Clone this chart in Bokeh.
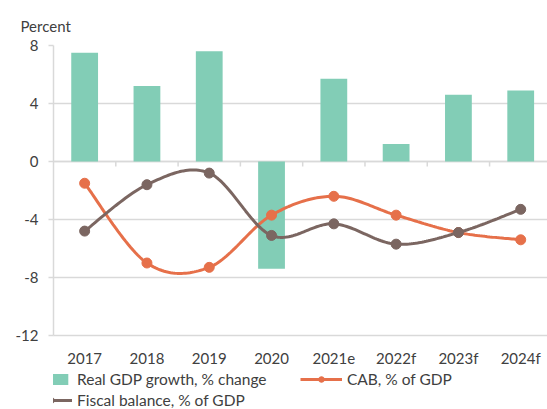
import numpy as np
from bokeh.plotting import figure
from bokeh.layouts import column
from bokeh.models import Range1d, FixedTicker, Legend, LegendItem, Span
from bokeh.embed import file_html
from bokeh.resources import INLINE

categories = ["2017", "2018", "2019", "2020", "2021e", "2022f", "2023f", "2024f"]
gdp = [7.5, 5.2, 7.6, -7.4, 5.7, 1.2, 4.6, 4.9]
cab = [-1.5, -7.0, -7.3, -3.7, -2.4, -3.7, -4.9, -5.4]
fiscal = [-4.8, -1.6, -0.8, -5.1, -4.3, -5.7, -4.9, -3.3]
y_ticks = [-12, -8, -4, 0, 4, 8]
y_tick_labels = ["-12", "-8", "-4", "0", "4", "8"]

FONT = "Lato"
TXT = "#404040"
GRID = "#d9d9d9"
C_BAR = "#82cdb6"
C_CAB = "#e6704a"
C_FIS = "#7b6661"

xs = np.arange(len(categories)) + 0.5


def smooth(x, y, n=30):
    x = np.asarray(x, float)
    y = np.asarray(y, float)
    P = np.column_stack([x, y])
    Pe = np.vstack([P[0], P, P[-1]])
    out = []
    for i in range(len(P) - 1):
        p0, p1, p2, p3 = Pe[i], Pe[i + 1], Pe[i + 2], Pe[i + 3]
        c1 = p1 + (p2 - p0) / 6.0
        c2 = p2 - (p3 - p1) / 6.0
        t = np.linspace(0, 1, n)[:, None]
        seg = ((1 - t) ** 3) * p1 + 3 * ((1 - t) ** 2) * t * c1 + 3 * (1 - t) * t ** 2 * c2 + t ** 3 * p2
        out.append(seg if i == 0 else seg[1:])
    s = np.vstack(out)
    return s[:, 0], s[:, 1]


p = figure(width=547, height=370, output_backend="svg", toolbar_location=None,
           x_range=Range1d(0, 7.93), y_range=Range1d(y_ticks[0], y_ticks[-1]),
           min_border_left=53, min_border_right=0, min_border_top=45, min_border_bottom=35,
           title="Percent")
p.outline_line_color = None
p.background_fill_color = "white"
p.border_fill_color = "white"

p.title.text_font = FONT
p.title.text_font_size = "15px"
p.title.text_font_style = "normal"
p.title.text_color = TXT
p.title.align = "left"
p.title.offset = -33
p.title.standoff = 22

p.xgrid.grid_line_color = None
p.ygrid.grid_line_color = GRID
p.ygrid.grid_line_width = 1.5

p.yaxis.ticker = FixedTicker(ticks=y_ticks)
p.yaxis.major_label_overrides = {t: s for t, s in zip(y_ticks, y_tick_labels)}
p.yaxis.axis_line_color = GRID
p.yaxis.axis_line_width = 1.5
p.yaxis.major_tick_line_color = GRID
p.yaxis.major_tick_line_width = 1.5
p.yaxis.major_tick_out = 5
p.yaxis.major_tick_in = 0
p.yaxis.minor_tick_line_color = None
p.yaxis.major_label_standoff = 10
p.yaxis.major_label_text_font = FONT
p.yaxis.major_label_text_font_size = "15px"
p.yaxis.major_label_text_color = TXT

p.xaxis.ticker = FixedTicker(ticks=list(xs))
p.xaxis.major_label_overrides = {float(x): c for x, c in zip(xs, categories)}
p.xaxis.axis_line_color = GRID
p.xaxis.axis_line_width = 1.5
p.xaxis.major_tick_line_color = None
p.xaxis.minor_tick_line_color = None
p.xaxis.major_tick_out = 0
p.xaxis.major_tick_in = 0
p.xaxis.minor_tick_out = 0
p.xaxis.minor_tick_in = 0
p.xaxis.major_label_standoff = 13
p.xaxis.major_label_text_font = FONT
p.xaxis.major_label_text_font_size = "15px"
p.xaxis.major_label_text_color = TXT

zero = Span(location=0, dimension="width", line_color=GRID, line_width=1.5, level="underlay")
p.add_layout(zero)
bounds = np.arange(1, len(categories))
p.segment(x0=bounds, y0=np.zeros(len(bounds)), x1=bounds, y1=np.full(len(bounds), -0.35),
          line_color=GRID, line_width=1.5)

p.vbar(x=xs, top=gdp, bottom=0, width=0.43, fill_color=C_BAR, line_color=None)

sx, sy = smooth(xs, cab)
p.line(sx, sy, line_color=C_CAB, line_width=3)
p.scatter(xs, cab, size=10, fill_color=C_CAB, line_color=C_CAB)

fx, fy = smooth(xs, fiscal)
p.line(fx, fy, line_color=C_FIS, line_width=3)
p.scatter(xs, fiscal, size=10, fill_color=C_FIS, line_color=C_FIS)

# legend strip: proxy renderers use the same series but lie outside this strip's ranges
q = figure(width=547, height=39, output_backend="svg", toolbar_location=None,
           x_axis_location=None, y_axis_location=None,
           x_range=Range1d(-20, -19), y_range=Range1d(100, 101),
           min_border=0, min_border_left=0, min_border_right=0,
           min_border_top=0, min_border_bottom=0)
q.outline_line_color = None
q.grid.visible = False
lb = q.vbar(x=xs, top=gdp, width=0.43, fill_color=C_BAR, line_color=None)
lc1 = q.line(x=xs, y=cab, line_color=C_CAB, line_width=3)
lc2 = q.scatter(x=xs, y=cab, size=8, fill_color=C_CAB, line_color=C_CAB)
lf1 = q.line(x=xs, y=fiscal, line_color=C_FIS, line_width=3)
lf2 = q.scatter(x=xs, y=fiscal, size=8, fill_color=C_FIS, line_color=C_FIS)

legend = Legend(items=[
    LegendItem(label="Real GDP growth, % change", renderers=[lb]),
    LegendItem(label="CAB, % of GDP", renderers=[lc1, lc2]),
    LegendItem(label="Fiscal balance, % of GDP", renderers=[lf1, lf2]),
], orientation="horizontal", ncols=2, location=(-23, 0),
    glyph_width=42, glyph_height=14, label_height=18, label_width=220, label_standoff=5,
    spacing=3, padding=0, margin=0, border_line_color=None, background_fill_alpha=0,
    label_text_font=FONT, label_text_font_size="15.5px", label_text_color=TXT)
q.add_layout(legend)

layout = column(p, q, spacing=0)
open("out.html", "w").write(file_html(layout, INLINE))
